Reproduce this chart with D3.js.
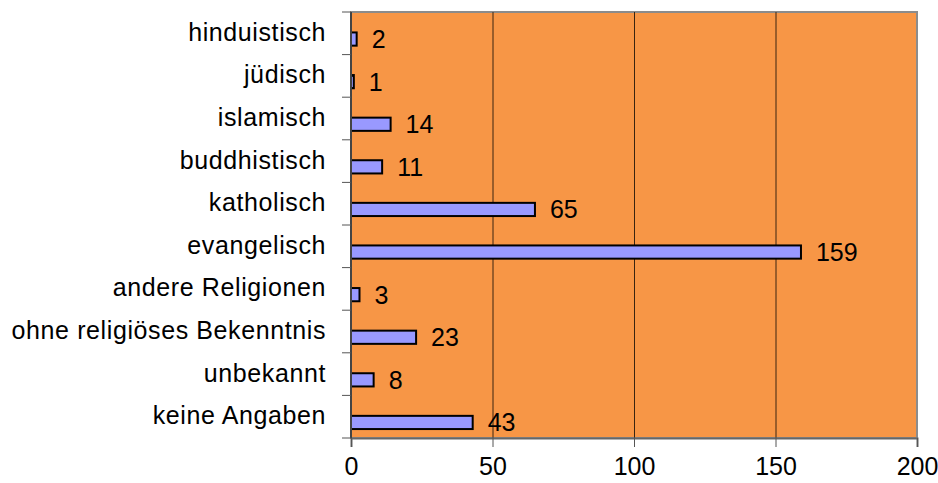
<!DOCTYPE html>
<html>
<head>
<meta charset="utf-8">
<script src="https://cdn.jsdelivr.net/npm/d3@7"></script>
<style>
  body { margin: 0; background: #fff; }
  text { font-family: "Liberation Sans", Arial, sans-serif; fill: #000; }
</style>
</head>
<body>
<svg class="chart" width="938" height="483"></svg>
<script>
// values, top to bottom
var categories = ['hinduistisch', 'jüdisch', 'islamisch', 'buddhistisch', 'katholisch',
  'evangelisch', 'andere Religionen', 'ohne religiöses Bekenntnis', 'unbekannt', 'keine Angaben'];
var counts = [2, 1, 14, 11, 65, 159, 3, 23, 8, 43];
var xTicks = [0, 50, 100, 150, 200];

var data = categories.map(function (c, i) {
  return { name: c, value: counts[i] };
});

var plotLeft = 351, plotRight = 917, plotTop = 12, plotBottom = 438;

var svg = d3.select('.chart');

var xScale = d3.scaleLinear()
  .domain([0, 200])
  .range([plotLeft, plotRight]);

var yScale = d3.scaleBand()
  .domain(categories)
  .range([plotTop, plotBottom]);

var bw = yScale.bandwidth();

// plot background
svg.append('rect')
  .attr('x', plotLeft)
  .attr('y', plotTop)
  .attr('width', plotRight - plotLeft)
  .attr('height', plotBottom - plotTop)
  .attr('fill', '#f79646')
  .attr('stroke', '#8c8c8c')
  .attr('stroke-width', 2);

// vertical grid lines
svg.append('g')
  .selectAll('line')
  .data(xTicks.slice(1, -1))
  .join('line')
  .attr('x1', function (d) { return xScale(d) + 0.5; })
  .attr('x2', function (d) { return xScale(d) + 0.5; })
  .attr('y1', plotTop)
  .attr('y2', plotBottom)
  .attr('stroke', '#3a2410')
  .attr('stroke-width', 1);

// bars
svg.append('g')
  .selectAll('rect')
  .data(data)
  .join('rect')
  .attr('x', xScale(0))
  .attr('y', function (d) { return yScale(d.name) + bw * 0.48; })
  .attr('width', function (d) { return xScale(d.value) - xScale(0); })
  .attr('height', bw * 0.31)
  .attr('fill', '#9999ff')
  .attr('stroke', '#000')
  .attr('stroke-width', 2);

// value labels
svg.append('g')
  .selectAll('text')
  .data(data)
  .join('text')
  .attr('x', function (d) { return xScale(d.value) + 15; })
  .attr('y', function (d) { return yScale(d.name) + bw * 0.635; })
  .attr('dy', '0.36em')
  .style('font-size', '25px')
  .text(function (d) { return d.value; });

// x axis
var xAxis = svg.append('g')
  .attr('transform', 'translate(0,' + plotBottom + ')')
  .call(d3.axisBottom(xScale).tickValues(xTicks).tickSize(9).tickPadding(10));
xAxis.select('.domain').attr('stroke', '#666').attr('stroke-width', 2);
xAxis.selectAll('.tick line').attr('stroke', '#555');
xAxis.selectAll('text')
  .style('font-size', '25px')
  .attr('font-family', null);

// y axis: ticks at category boundaries
var yAxis = svg.append('g');
yAxis.append('line')
  .attr('x1', plotLeft).attr('x2', plotLeft)
  .attr('y1', plotTop).attr('y2', plotBottom)
  .attr('stroke', '#444').attr('stroke-width', 2);
yAxis.selectAll('line.tk')
  .data(categories.concat(['end']))
  .join('line')
  .classed('tk', true)
  .attr('x1', plotLeft - 9).attr('x2', plotLeft)
  .attr('y1', function (d, i) { return plotTop + i * bw; })
  .attr('y2', function (d, i) { return plotTop + i * bw; })
  .attr('stroke', '#555');
yAxis.selectAll('text')
  .data(categories)
  .join('text')
  .attr('x', 326)
  .attr('y', function (d) { return yScale(d) + bw / 2; })
  .attr('dy', '0.3em')
  .attr('text-anchor', 'end')
  .style('font-size', '25px')
  .style('letter-spacing', '0.6px')
  .text(function (d) { return d; });
</script>
</body>
</html>
